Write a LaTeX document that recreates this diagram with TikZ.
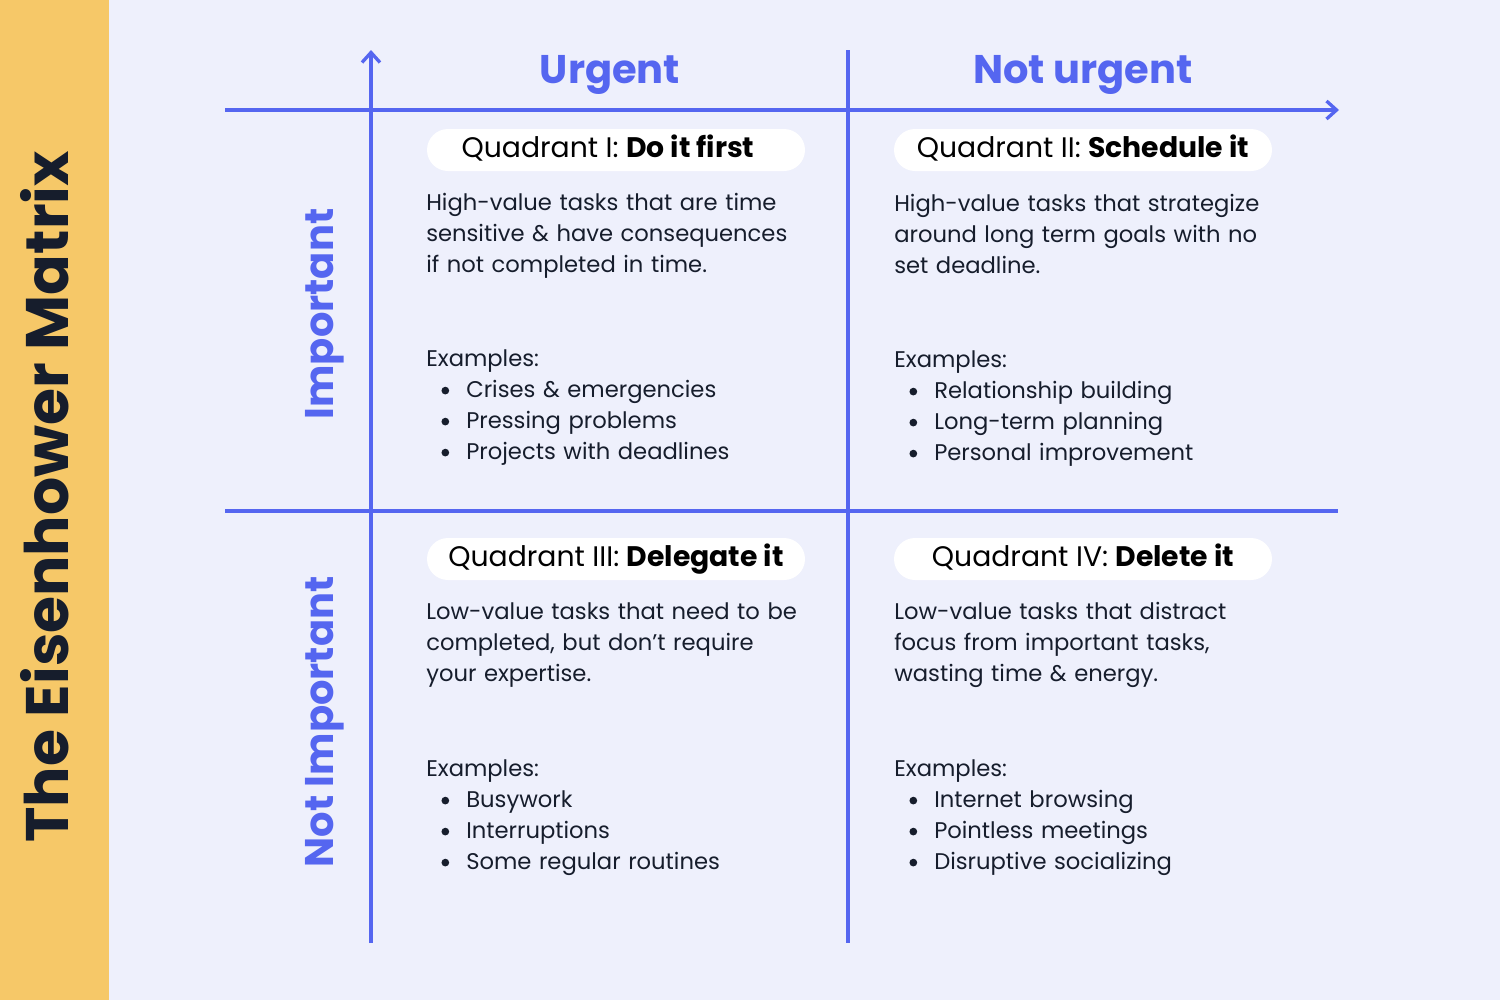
\documentclass[tikz,border=0pt]{standalone}
\usepackage{fontspec}
\setmainfont{Poppins}
\usetikzlibrary{arrows.meta}

\definecolor{pagebg}{HTML}{EEF0FC}
\definecolor{sidebar}{HTML}{F6C868}
\definecolor{axisblue}{HTML}{5566F0}
\definecolor{inkdark}{HTML}{161D2C}

% list entry with a round bullet
\newcommand{\bulletline}[1]{\hspace*{11.4pt}\makebox[18.6pt][l]{\raisebox{1.9pt}{\tikz\fill[inkdark] (0pt,0pt) circle[radius=2.9pt];}}#1}

\begin{document}
\begin{tikzpicture}[x=0.75pt,y=-0.75pt,
  axis/.style={draw=axisblue, line width=2.5pt},
  axisarrow/.style={axis, -{Straight Barb[length=7.5pt,width=13.5pt,line width=2.5pt]}},
  heading/.style={text=axisblue, font=\fontsize{30pt}{36pt}\selectfont\bfseries, inner sep=0pt},
  rowlabel/.style={heading, rotate=90, anchor=base},
  pill/.style={fill=white, rounded corners=15.75pt, minimum width=283.5pt, minimum height=31.5pt,
    text height=14.25pt, text depth=3.75pt, inner sep=0pt, text=black,
    font=\fontsize{21.2pt}{25pt}\selectfont},
  bodytext/.style={anchor=base west, inner sep=0pt, text width=300pt, align=left, text=inkdark,
    font=\fontsize{17pt}{23.25pt}\selectfont}
]
\useasboundingbox (0,0) rectangle (1500,1000);
\fill[pagebg] (0,0) rectangle (1500,1000);
\fill[sidebar] (0,0) rectangle (109,1000);

% title on the side bar
\node[rotate=90, anchor=base, inner sep=0pt, text=inkdark,
  font=\fontsize{45pt}{54pt}\selectfont\bfseries] (title) at (68,497) {The Eisenhower Matrix};

% axes and grid
\coordinate (vA0) at (371,943);
\coordinate (vA1) at (371,50);
\coordinate (vB0) at (848,50);
\coordinate (vB1) at (848,943);
\coordinate (hA0) at (225,110);
\coordinate (hA1) at (1339,110);
\coordinate (hB0) at (225,511);
\coordinate (hB1) at (1338,511);
\draw[axisarrow] (vA0) -- (vA1);
\draw[axis] (vB0) -- (vB1);
\draw[axisarrow] (hA0) -- (hA1);
\draw[axis] (hB0) -- (hB1);

% column and row headings
\node[heading, anchor=base] (urgent) at (610,83) {Urgent};
\node[heading, anchor=base] (noturgent) at (1083,83) {Not urgent};
\node[rowlabel] (important) at (333,314) {Important};
\node[rowlabel] (notimportant) at (333,722) {Not Important};

% quadrant titles
\node[pill] (q1) at (616,150) {Quadrant I: \textbf{Do it first}\hspace*{12pt}};
\node[pill] (q2) at (1083,150) {Quadrant II: \textbf{Schedule it}};
\node[pill] (q3) at (616,559) {Quadrant III: \textbf{Delegate it}};
\node[pill] (q4) at (1083,559) {Quadrant IV: \textbf{Delete it}};

% quadrant I
\node[bodytext] (q1text) at (426,210) {High-value tasks that are time\\
  sensitive \& have consequences\\ if not completed in time.};
\node[bodytext] (q1ex) at (426,366) {Examples:\\
  \bulletline{Crises \& emergencies}\\
  \bulletline{Pressing problems}\\
  \bulletline{Projects with deadlines}};

% quadrant II
\node[bodytext] (q2text) at (894,211) {High-value tasks that strategize\\
  around long term goals with no\\ set deadline.};
\node[bodytext] (q2ex) at (894,367) {Examples:\\
  \bulletline{Relationship building}\\
  \bulletline{Long-term planning}\\
  \bulletline{Personal improvement}};

% quadrant III
\node[bodytext] (q3text) at (426,619) {Low-value tasks that need to be\\
  completed, but don't require\\ your expertise.};
\node[bodytext] (q3ex) at (426,776) {Examples:\\
  \bulletline{Busywork}\\
  \bulletline{Interruptions}\\
  \bulletline{Some regular routines}};

% quadrant IV
\node[bodytext] (q4text) at (894,619) {Low-value tasks that distract\\
  focus from important tasks,\\ wasting time \& energy.};
\node[bodytext] (q4ex) at (894,776) {Examples:\\
  \bulletline{Internet browsing}\\
  \bulletline{Pointless meetings}\\
  \bulletline{Disruptive socializing}};
\end{tikzpicture}
\end{document}
